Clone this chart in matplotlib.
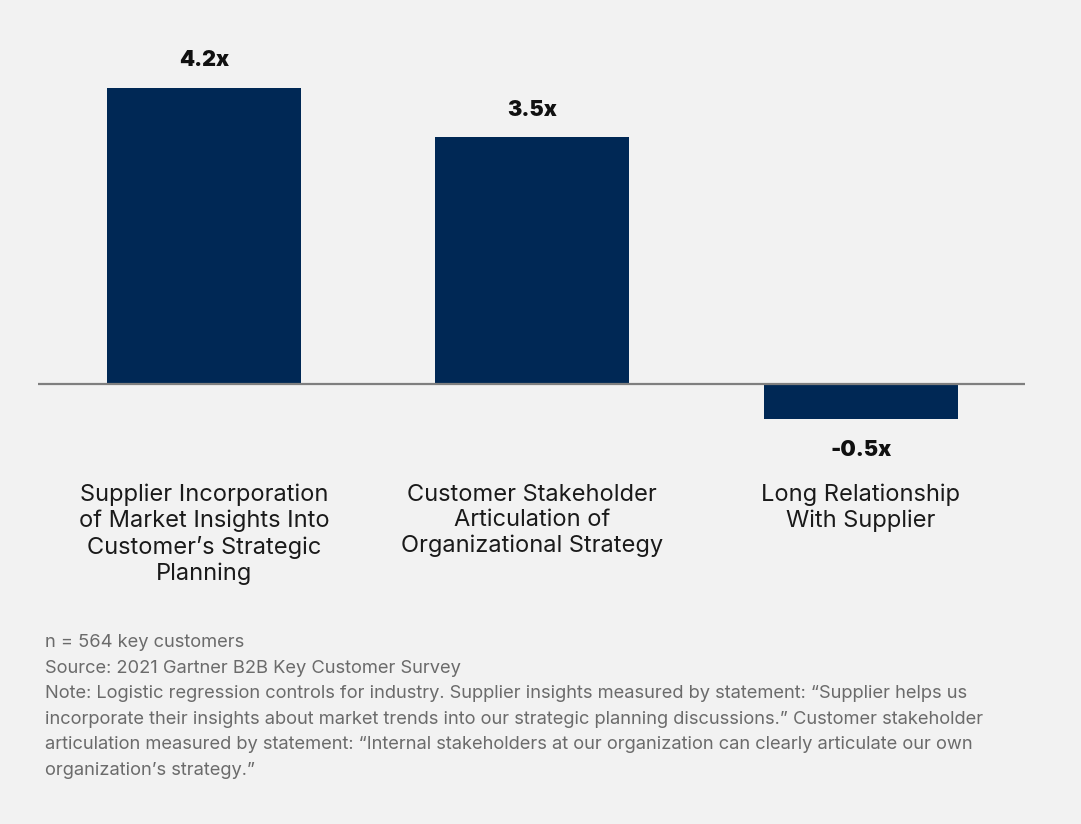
import matplotlib.pyplot as plt

categories = [
    "Supplier Incorporation\nof Market Insights Into\nCustomer\u2019s Strategic\nPlanning",
    "Customer Stakeholder\nArticulation of\nOrganizational Strategy",
    "Long Relationship\nWith Supplier",
]
values = [4.2, 3.5, -0.5]
value_labels = ["4.2x", "3.5x", "-0.5x"]

footer_lines = [
    "n = 564 key customers",
    "Source: 2021 Gartner B2B Key Customer Survey",
    "Note: Logistic regression controls for industry. Supplier insights measured by statement: \u201cSupplier helps us",
    "incorporate their insights about market trends into our strategic planning discussions.\u201d Customer stakeholder",
    "articulation measured by statement: \u201cInternal stakeholders at our organization can clearly articulate our own",
    "organization\u2019s strategy.\u201d",
]

bg = "#f2f2f2"
navy = "#002855"

fig = plt.figure(figsize=(10.81, 8.24), dpi=100, facecolor=bg)
W, H = 1081, 824
# axes in pixel terms: x 38..1025, zero line at y=384
ax = fig.add_axes([38 / W, 1 - 454.5 / H, 987 / W, 423 / H])
ax.set_facecolor(bg)
x = list(range(len(values)))
ax.bar(x, values, width=0.59, color=navy, zorder=2)
ax.axhline(0, color="#7f7f7f", lw=1.6, zorder=3)
ax.set_xlim(-0.505, 2.5)
ax.set_ylim(-1.0, 5.0)
ax.axis("off")

for i, (v, lab) in enumerate(zip(values, value_labels)):
    dy = 15.5 if v >= 0 else -26.5
    ax.annotate(lab, (i, v), xytext=(0, dy), textcoords="offset points",
                ha="center", va="baseline", fontsize=15.5, fontweight="black",
                family="Inter", color="#111111")

for i, c in enumerate(categories):
    px = ax.transData.transform((i, 0))[0] / W
    fig.text(px, 1 - 484 / H, c, ha="center", va="top", fontsize=17,
             family="Inter", color="#1a1a1a", linespacing=1.2)

for j, line in enumerate(footer_lines):
    fig.text(45 / W, 1 - (647 + j * 25.6) / H, line, ha="left", va="baseline",
             fontsize=13.2, family="Inter", color="#6b6b6b")

fig.savefig("out.png", dpi=100, facecolor=bg)
